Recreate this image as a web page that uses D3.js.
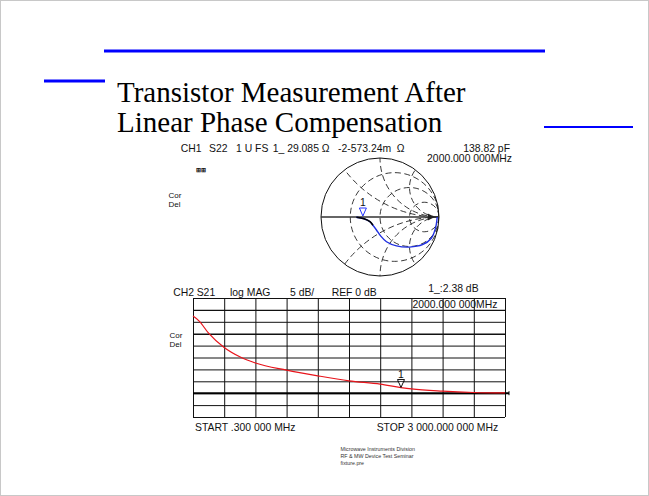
<!doctype html>
<html>
<head>
<meta charset="utf-8">
<style>
  body { margin: 0; background: #fff; }
  svg { display: block; }
  .inst { font-family: "Liberation Sans", Arial, sans-serif; font-size: 10.4px; fill: #111; }
  .cd { font-family: "Liberation Sans", Arial, sans-serif; font-size: 8px; fill: #111; }
  .title { font-family: "Liberation Serif", "Times New Roman", serif; font-size: 29px; fill: #000; }
  .foot { font-family: "Liberation Sans", Arial, sans-serif; font-size: 5.3px; fill: #333; }
</style>
<script src="https://d3js.org/d3.v7.min.js"></script>
</head>
<body>
<svg width="649" height="496" id="slide"></svg>
<script>
// ---- data ----
var titleLines = ["Transistor Measurement After", "Linear Phase Compensation"];

// CH1 S22 smith trace (reflection coefficient, re / im)
var smithRe = [-0.40, -0.27, -0.17, -0.12, -0.06, 0.01, 0.11, 0.28, 0.50, 0.72, 0.87, 0.94, 0.97];
var smithIm = [-0.005, -0.03, -0.08, -0.14, -0.22, -0.32, -0.42, -0.49, -0.51, -0.47, -0.36, -0.19, 0.0];
var smithR = [0.33, 1, 3];          // constant resistance circles
var smithX = [0.5, 1, 2];           // constant reactance arcs (+/-)

// CH2 S21 log mag trace
var freqMHz = [0.3, 60, 150, 300, 450, 600, 900, 1200, 1500, 1800, 2000, 2100, 2400, 2700, 3000];
var magDB   = [32.4, 30.3, 25.2, 19.2, 15.3, 12.7, 9.7, 7.3, 5.2, 3.8, 2.38, 1.8, 0.85, 0.3, 0.1];
var markerFreq = 2000, markerDB = 2.38;
var dbTicks = d3.range(-10, 41, 5);
var fTicks = d3.range(11).map(function(i) { return 0.3 + i * (3000 - 0.3) / 10; });

var svg = d3.select("#slide");

// slide frame
svg.append("rect").attr("x", 0.5).attr("y", 0.5).attr("width", 648).attr("height", 495)
   .attr("fill", "none").attr("stroke", "#c8c8c8");

// blue rules
svg.append("line").attr("x1", 104).attr("x2", 545).attr("y1", 51).attr("y2", 51)
   .attr("stroke", "#0000ff").attr("stroke-width", 3);
svg.append("line").attr("x1", 44).attr("x2", 105).attr("y1", 81).attr("y2", 81)
   .attr("stroke", "#0000ff").attr("stroke-width", 3);
svg.append("line").attr("x1", 544).attr("x2", 633).attr("y1", 127).attr("y2", 127)
   .attr("stroke", "#0000ff").attr("stroke-width", 2);

// title
svg.selectAll(".title").data(titleLines).enter().append("text")
   .attr("class", "title")
   .attr("x", 117)
   .attr("y", function(d, i) { return 102 + i * 30; })
   .text(function(d) { return d; });

// ================= Smith chart (CH1) =================
var cx = 380, cy = 217, R = 59;
var sx = d3.scaleLinear().domain([-1, 1]).range([cx - R, cx + R]);
var sy = d3.scaleLinear().domain([-1, 1]).range([cy + R, cy - R]);

svg.append("clipPath").attr("id", "smclip")
   .append("circle").attr("cx", cx).attr("cy", cy).attr("r", R);

var sg = svg.append("g");
var grid = sg.append("g").attr("clip-path", "url(#smclip)")
   .attr("fill", "none").attr("stroke", "#222").attr("stroke-width", 0.9)
   .attr("stroke-dasharray", "6,3.5");

grid.selectAll(".rc").data(smithR).enter().append("circle")
   .attr("cx", function(r) { return sx(r / (1 + r)); })
   .attr("cy", sy(0))
   .attr("r", function(r) { return R / (1 + r); });

var xarcs = [];
smithX.forEach(function(x) { xarcs.push(x); xarcs.push(-x); });
grid.selectAll(".xc").data(xarcs).enter().append("circle")
   .attr("cx", sx(1))
   .attr("cy", function(x) { return sy(1 / x); })
   .attr("r", function(x) { return R / Math.abs(x); });

sg.append("circle").attr("cx", cx).attr("cy", cy).attr("r", R)
  .attr("fill", "none").attr("stroke", "#111").attr("stroke-width", 1);
sg.append("line").attr("x1", sx(-1)).attr("x2", sx(1)).attr("y1", sy(0)).attr("y2", sy(0))
  .attr("stroke", "#333").attr("stroke-width", 1.6);
// arrow on real axis
sg.append("path")
  .attr("d", "M" + (sx(0.81)) + "," + (sy(0) - 3.5) + "L" + sx(0.93) + "," + sy(0) + "L" + sx(0.81) + "," + (sy(0) + 3.5) + "Z")
  .attr("fill", "#222");

var sline = d3.line()
  .x(function(d) { return sx(d[0]); })
  .y(function(d) { return sy(d[1]); })
  .curve(d3.curveCatmullRom);
var spts = smithRe.map(function(v, i) { return [v, smithIm[i]]; });
sg.append("path").datum(spts).attr("d", sline)
  .attr("fill", "none").attr("stroke", "#1f2fe0").attr("stroke-width", 1.4);
sg.append("path").datum(spts.slice(0, 4)).attr("d", sline)
  .attr("fill", "none").attr("stroke", "#000").attr("stroke-width", 1.6);

// smith marker 1
var m1x = sx(-0.29), m1y = sy(0);
sg.append("path")
  .attr("d", "M" + (m1x - 3.5) + "," + (m1y - 9) + "L" + (m1x + 3.5) + "," + (m1y - 9) + "L" + m1x + "," + (m1y - 1) + "Z")
  .attr("fill", "#fff").attr("stroke", "#2233ff").attr("stroke-width", 1);
sg.append("text").attr("class", "inst").attr("x", m1x).attr("y", m1y - 11)
  .attr("text-anchor", "middle").text("1");

// CH1 header
var h1 = [["CH1", 180.7], ["S22", 209], ["1 U FS", 236], ["1_ 29.085 \u03a9", 272.7], ["-2-573.24m", 338], ["\u03a9", 396.7]];
svg.selectAll(".h1").data(h1).enter().append("text")
   .attr("class", "inst").attr("x", function(d) { return d[1]; }).attr("y", 151.5)
   .text(function(d) { return d[0]; });
svg.append("text").attr("class", "inst").attr("x", 510).attr("y", 151.5)
   .attr("text-anchor", "end").text("138.82 pF");
svg.append("text").attr("class", "inst").attr("x", 512).attr("y", 161.5)
   .attr("text-anchor", "end").text("2000.000 000MHz");
svg.append("text").attr("class", "inst").attr("x", 196).attr("y", 172)
   .style("font-size", "6px").style("font-weight", "bold").text("\u229e\u229e");

// Cor / Del labels
[[168.5, 197.5], [169.5, 337.5]].forEach(function(p) {
  svg.append("text").attr("class", "cd").attr("x", p[0]).attr("y", p[1]).text("Cor");
  svg.append("text").attr("class", "cd").attr("x", p[0]).attr("y", p[1] + 9.4).text("Del");
});

// ================= Log MAG (CH2) =================
var x = d3.scaleLinear().domain([0.3, 3000]).range([193, 505]);
var y = d3.scaleLinear().domain([-10, 40]).range([417, 298]);

var lg = svg.append("g");
lg.append("g")
  .attr("transform", "translate(0," + y(-10) + ")")
  .call(d3.axisBottom(x).tickValues(fTicks).tickSize(-(y(-10) - y(40))).tickFormat(""))
  .call(function(g) {
    g.select(".domain").remove();
    g.selectAll("line").attr("stroke", "#111").attr("stroke-width", 1);
  });
lg.append("g")
  .attr("transform", "translate(" + x(0.3) + ",0)")
  .call(d3.axisLeft(y).tickValues(dbTicks).tickSize(-(x(3000) - x(0.3))).tickFormat(""))
  .call(function(g) {
    g.select(".domain").remove();
    g.selectAll("line").attr("stroke", "#111")
     .attr("stroke-width", function(d) { return (d === 35 || d === 25) ? 1.4 : 1; });
  });
// reference line (REF 0 dB)
lg.append("line").attr("x1", x(0.3)).attr("x2", x(3000) + 4).attr("y1", y(0)).attr("y2", y(0))
  .attr("stroke", "#000").attr("stroke-width", 2);
lg.append("line").attr("x1", x(3000) + 4).attr("x2", x(3000) + 4).attr("y1", y(0) - 2).attr("y2", y(0) + 2)
  .attr("stroke", "#000").attr("stroke-width", 1);

var mline = d3.line()
  .x(function(d, i) { return x(freqMHz[i]); })
  .y(function(d) { return y(d); })
  .curve(d3.curveMonotoneX);
lg.append("path").datum(magDB).attr("d", mline)
  .attr("fill", "none").attr("stroke", "#e8141b").attr("stroke-width", 1.2);

// marker 1 on trace
var mx = x(markerFreq), my = y(markerDB);
lg.append("path")
  .attr("d", "M" + (mx - 3.5) + "," + (my - 8) + "L" + (mx + 3.5) + "," + (my - 8) + "L" + mx + "," + my + "Z")
  .attr("fill", "#fff").attr("stroke", "#111").attr("stroke-width", 1);
lg.append("line").attr("x1", mx - 3.5).attr("x2", mx + 3.5).attr("y1", my - 6).attr("y2", my - 6)
  .attr("stroke", "#111").attr("stroke-width", 0.8);
lg.append("text").attr("class", "inst").attr("x", mx).attr("y", my - 10)
  .attr("text-anchor", "middle").text("1");

// CH2 header
var h2 = [["CH2", 173.3], ["S21", 196.7], ["log MAG", 230], ["5 dB/", 290], ["REF 0 dB", 331.7]];
svg.selectAll(".h2").data(h2).enter().append("text")
   .attr("class", "inst").attr("x", function(d) { return d[1]; }).attr("y", 295.7)
   .text(function(d) { return d[0]; });
svg.append("text").attr("class", "inst").attr("x", 428.3).attr("y", 291.7).text("1_:2.38 dB");
svg.append("text").attr("class", "inst").attr("x", 412.5).attr("y", 308.3).text("2000.000 000MHz");

svg.append("text").attr("class", "inst").attr("x", 195).attr("y", 430.7).text("START .300 000 MHz");
svg.append("text").attr("class", "inst").attr("x", 376.7).attr("y", 430.7).text("STOP 3 000.000 000 MHz");

// footer
var foot = ["Microwave Instruments Division", "RF & MW Device Test Seminar", "fixture.pre"];
svg.selectAll(".foot").data(foot).enter().append("text")
   .attr("class", "foot").attr("x", 340.5)
   .attr("y", function(d, i) { return 451 + i * 7; })
   .text(function(d) { return d; });
</script>
</body>
</html>
